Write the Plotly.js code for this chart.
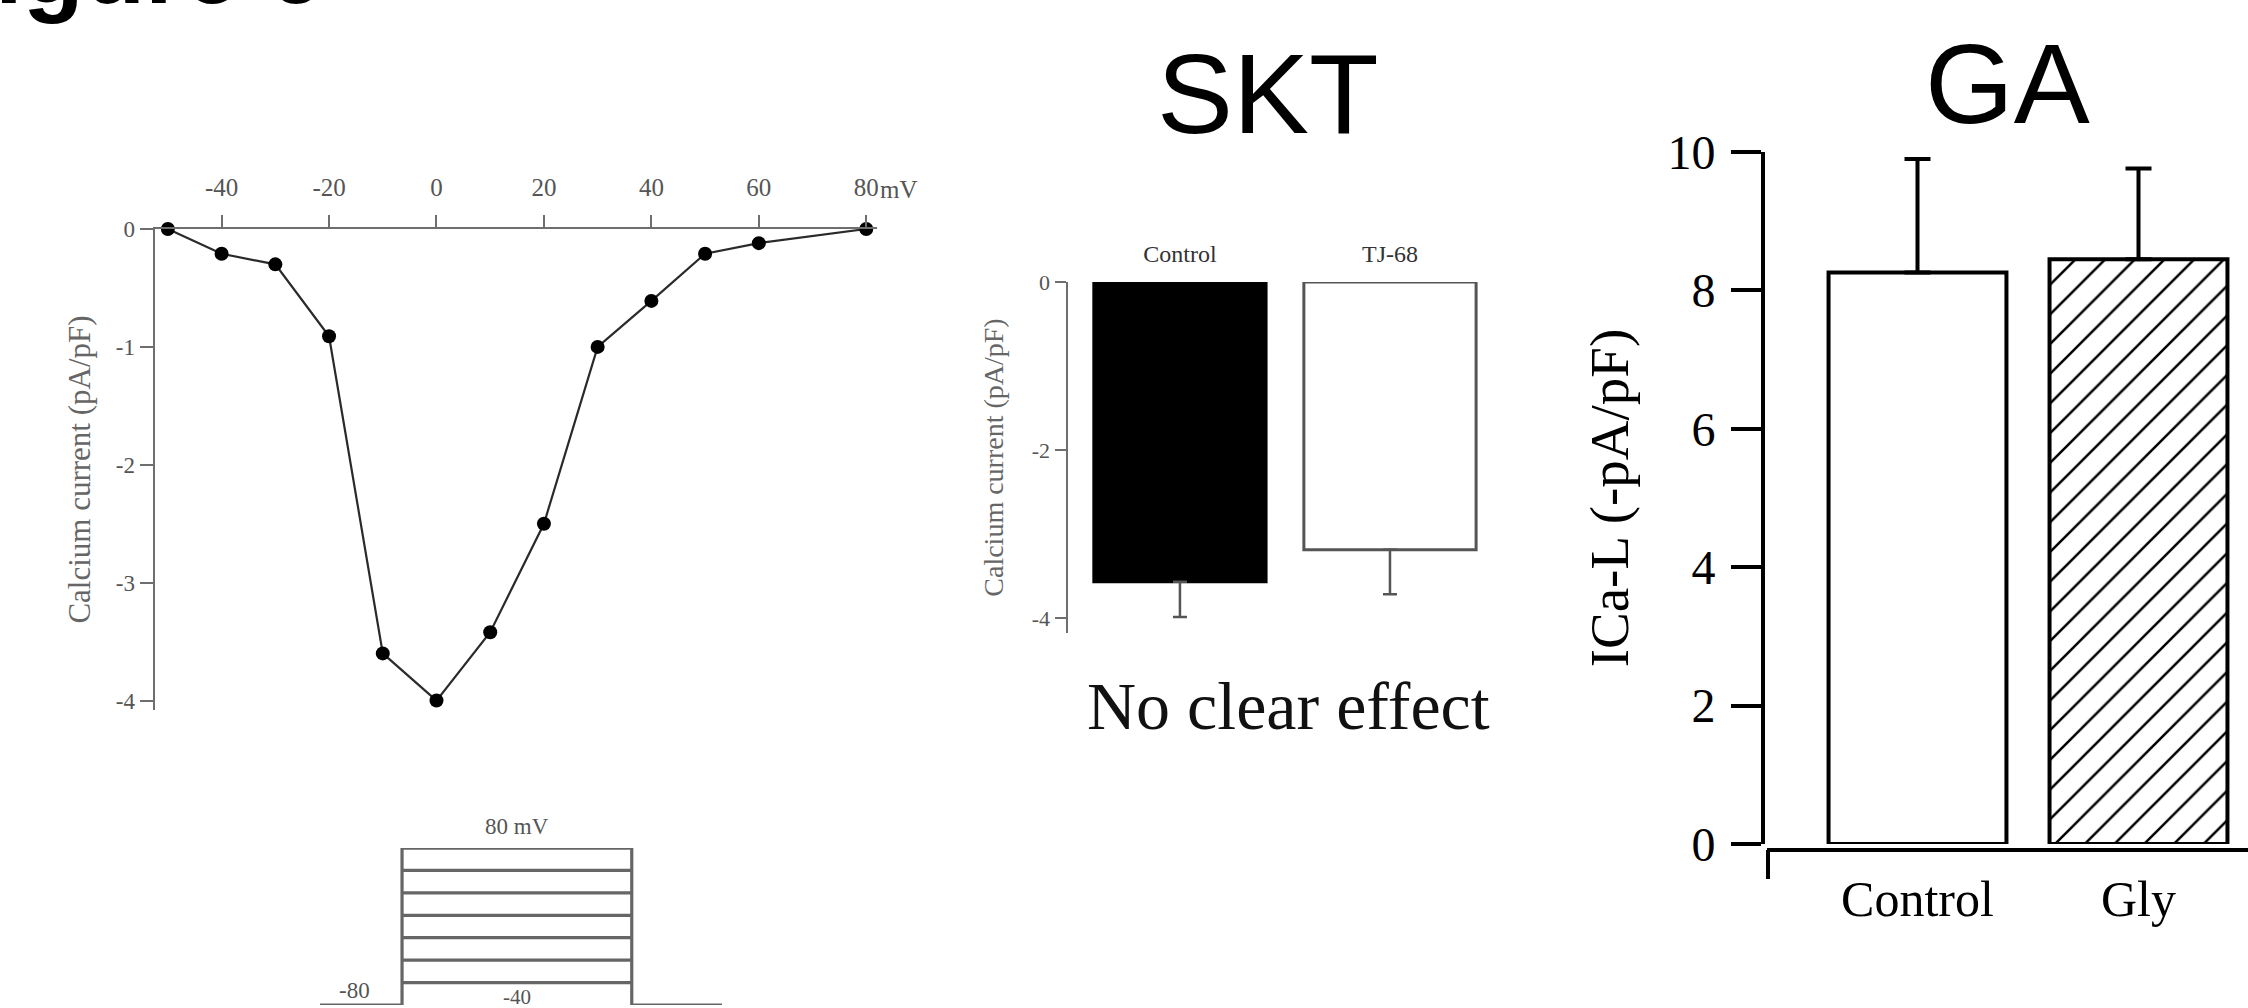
<!DOCTYPE html>
<html>
<head>
<meta charset="utf-8">
<script src="https://cdn.plot.ly/plotly-3.0.1.min.js"></script>
<style>html,body{margin:0;padding:0;background:#fff;}#chart{width:2248px;height:1008px;}</style>
</head>
<body>
<div id="chart"></div>
<script>
// ---- Panel A: I-V relation ----
const ivVoltage = [-50, -40, -30, -20, -10, 0, 10, 20, 30, 40, 50, 60, 80];
const ivCurrent = [0, -0.21, -0.3, -0.91, -3.6, -4.0, -3.42, -2.5, -1.0, -0.61, -0.21, -0.12, 0];
const ivXTicks = [-40, -20, 0, 20, 40, 60, 80];
const ivYTicks = [0, -1, -2, -3, -4];

// ---- Voltage protocol (schematic) ----
const holdingPotential = -80;
const testPotentials = [-40, -20, 0, 20, 40, 60, 80];
const protocolTimes = [0, 100, 380, 490]; // hold start, step on, step off, hold end (schematic)
const protocolLevels = ['-80', '-40', '-20', '0', '20', '40', '60', '80'];

// ---- Panel SKT ----
const sktGroups = ['Control', 'TJ-68'];
const sktMeans = [-3.57, -3.19];
const sktErrors = [0.42, 0.53];
const sktYTicks = [0, -2, -4];

// ---- Panel GA ----
const gaGroups = ['Control', 'Gly'];
const gaMeans = [8.26, 8.45];
const gaErrors = [1.64, 1.31];
const gaYTicks = [0, 2, 4, 6, 8, 10];

const W = 2248, H = 1008;
const px = v => v / W;
const py = v => 1 - v / H;

const serif = 'Liberation Serif, Times New Roman, serif';
const sans = 'Liberation Sans, Arial, sans-serif';
const grayTxt = '#555';
const grayLine = '#6e6e6e';

const traces = [];

// IV curve
traces.push({
  x: ivVoltage, y: ivCurrent, xaxis: 'x', yaxis: 'y', type: 'scatter', mode: 'lines+markers',
  line: {color: '#2a2a2a', width: 2.2},
  marker: {color: '#000', size: 14},
  cliponaxis: false, showlegend: false, hoverinfo: 'skip'
});

// protocol outline
const tMax = String(Math.max(...testPotentials));
const tMin = String(Math.min(...testPotentials));
const tHold = String(holdingPotential);
traces.push({
  x: [protocolTimes[0], protocolTimes[1], protocolTimes[1], protocolTimes[2], protocolTimes[2], protocolTimes[3]],
  y: [tHold, tHold, tMax, tMax, tHold, tHold],
  xaxis: 'x2', yaxis: 'y2', type: 'scatter', mode: 'lines',
  line: {color: '#666', width: 3.2}, cliponaxis: false, showlegend: false, hoverinfo: 'skip'
});
testPotentials.forEach(v => {
  traces.push({
    x: [protocolTimes[1], protocolTimes[2]], y: [String(v), String(v)],
    xaxis: 'x2', yaxis: 'y2', type: 'scatter', mode: 'lines',
    line: {color: '#666', width: 3.2}, cliponaxis: false, showlegend: false, hoverinfo: 'skip'
  });
});

// SKT bars
traces.push({
  x: sktGroups, y: sktMeans, xaxis: 'x3', yaxis: 'y3', type: 'bar', width: 0.82,
  marker: {color: ['#000', '#fff'], line: {color: ['#000', '#555'], width: 3}},
  error_y: {type: 'data', symmetric: false, array: [0, 0], arrayminus: sktErrors, color: '#555', thickness: 2.5, width: 7},
  showlegend: false, hoverinfo: 'skip'
});

// GA bars
traces.push({
  x: gaGroups, y: gaMeans, xaxis: 'x4', yaxis: 'y4', type: 'bar', width: 0.805,
  marker: {color: '#fff', line: {color: '#000', width: 4},
           pattern: {shape: ['', '/'], fgcolor: '#000', bgcolor: '#fff', size: 21, solidity: 0.12}},
  error_y: {type: 'data', symmetric: false, array: gaErrors, arrayminus: [0, 0], color: '#000', thickness: 4, width: 13},
  showlegend: false, hoverinfo: 'skip'
});

const stepMid = (protocolTimes[1] + protocolTimes[2]) / 2;
const holdMid = (protocolTimes[0] + protocolTimes[1]) / 2;

const layout = {
  width: W, height: H, margin: {l: 0, r: 0, t: 0, b: 0},
  paper_bgcolor: '#fff', plot_bgcolor: 'rgba(0,0,0,0)', showlegend: false,
  bargap: 0,
  // IV axes
  xaxis: {
    domain: [px(155), px(877)], range: [-52.4, 82], side: 'top', anchor: 'y',
    showline: true, linecolor: grayLine, linewidth: 2.5, zeroline: false, showgrid: false,
    ticks: 'outside', ticklen: 12, tickwidth: 2, tickcolor: grayLine,
    tickmode: 'array', tickvals: ivXTicks, ticktext: ivXTicks.map(String),
    tickfont: {family: serif, size: 25, color: grayTxt}, ticklabelstandoff: 9
  },
  yaxis: {
    domain: [py(710), py(229)], range: [-4.08, 0], anchor: 'x',
    showline: true, linecolor: grayLine, linewidth: 2.5, zeroline: false, showgrid: false,
    ticks: 'outside', ticklen: 13, tickwidth: 2, tickcolor: grayLine,
    tickmode: 'array', tickvals: ivYTicks, ticktext: ivYTicks.map(String),
    tickfont: {family: serif, size: 23, color: grayTxt},
    title: {text: 'Calcium current (pA/pF)', font: {family: serif, size: 31, color: '#666'}, standoff: 16}
  },
  // protocol axes
  xaxis2: {domain: [px(320), px(722)], range: [protocolTimes[0], protocolTimes[3]], anchor: 'y2', visible: false},
  yaxis2: {domain: [py(1005), py(848)], type: 'category', categoryorder: 'array', categoryarray: protocolLevels,
           range: [0, protocolLevels.length - 1], anchor: 'x2', visible: false},
  // SKT axes
  xaxis3: {
    domain: [px(1068), px(1495)], range: [-0.533, 1.5], side: 'top', anchor: 'y3', type: 'category',
    showline: false, ticks: '', showgrid: false, zeroline: false,
    tickfont: {family: serif, size: 24, color: '#333'}, ticklabelstandoff: 14
  },
  yaxis3: {
    domain: [py(633), py(282)], range: [-4.18, 0], anchor: 'x3',
    showline: true, linecolor: grayLine, linewidth: 2.5, zeroline: false, showgrid: false,
    ticks: 'outside', ticklen: 11, tickwidth: 2, tickcolor: grayLine,
    tickmode: 'array', tickvals: sktYTicks, ticktext: sktYTicks.map(String),
    tickfont: {family: serif, size: 22, color: grayTxt},
    title: {text: 'Calcium current (pA/pF)', font: {family: serif, size: 28, color: '#666'}, standoff: 20}
  },
  // GA axes
  xaxis4: {
    domain: [px(1767), 1], range: [-0.681, 1.4955], anchor: 'free', position: py(850), type: 'category',
    showline: true, linecolor: '#000', linewidth: 4, ticks: '', showgrid: false, zeroline: false,
    tickfont: {family: serif, size: 50, color: '#000'}, ticklabelstandoff: 4
  },
  yaxis4: {
    domain: [py(844), py(152)], range: [0, 10], anchor: 'free', position: px(1763),
    showline: true, linecolor: '#000', linewidth: 4, zeroline: false, showgrid: false,
    ticks: 'outside', ticklen: 30, tickwidth: 4, tickcolor: '#000',
    tickmode: 'array', tickvals: gaYTicks, ticktext: gaYTicks.map(String),
    tickfont: {family: serif, size: 48, color: '#000'}, ticklabelstandoff: 6,
    title: {text: 'ICa-L (-pA/pF)', font: {family: serif, size: 55, color: '#000'}, standoff: 20}
  },
  shapes: [
    {type: 'line', xref: 'paper', yref: 'paper', x0: px(1768), x1: px(1768), y0: py(850), y1: py(879),
     line: {color: '#000', width: 4}}
  ],
  annotations: [
    {text: '<b>Figure 6</b>', xref: 'paper', yref: 'paper', x: px(-68), y: py(-32), xanchor: 'left', yanchor: 'middle',
     showarrow: false, font: {family: sans, size: 100, color: '#000'}},
    {text: 'SKT', xref: 'paper', yref: 'paper', x: px(1268), y: py(93), xanchor: 'center', yanchor: 'middle',
     showarrow: false, font: {family: sans, size: 114, color: '#000'}},
    {text: 'GA', xref: 'paper', yref: 'paper', x: px(2007), y: py(83), xanchor: 'center', yanchor: 'middle',
     showarrow: false, font: {family: sans, size: 114, color: '#000'}},
    {text: 'No clear effect', xref: 'paper', yref: 'paper', x: px(1288), y: py(706), xanchor: 'center', yanchor: 'middle',
     showarrow: false, font: {family: serif, size: 68, color: '#111'}},
    {text: 'mV', xref: 'x', yref: 'paper', x: ivXTicks[ivXTicks.length - 1], y: py(189), xanchor: 'left', yanchor: 'middle',
     xshift: 12, showarrow: false, font: {family: serif, size: 25, color: grayTxt}},
    {text: tMax + ' mV', xref: 'x2', yref: 'y2', x: stepMid, y: protocolLevels.indexOf(tMax),
     yshift: 22, showarrow: false, font: {family: serif, size: 23, color: grayTxt}},
    {text: tMin, xref: 'x2', yref: 'y2', x: stepMid, y: protocolLevels.indexOf(tMin),
     yshift: -14, showarrow: false, font: {family: serif, size: 21, color: grayTxt}},
    {text: tHold, xref: 'x2', yref: 'y2', x: holdMid - 8, y: protocolLevels.indexOf(tHold),
     yshift: 15, showarrow: false, font: {family: serif, size: 23, color: grayTxt}}
  ]
};

Plotly.newPlot('chart', traces, layout, {staticPlot: true, displayModeBar: false});
</script>
</body>
</html>
